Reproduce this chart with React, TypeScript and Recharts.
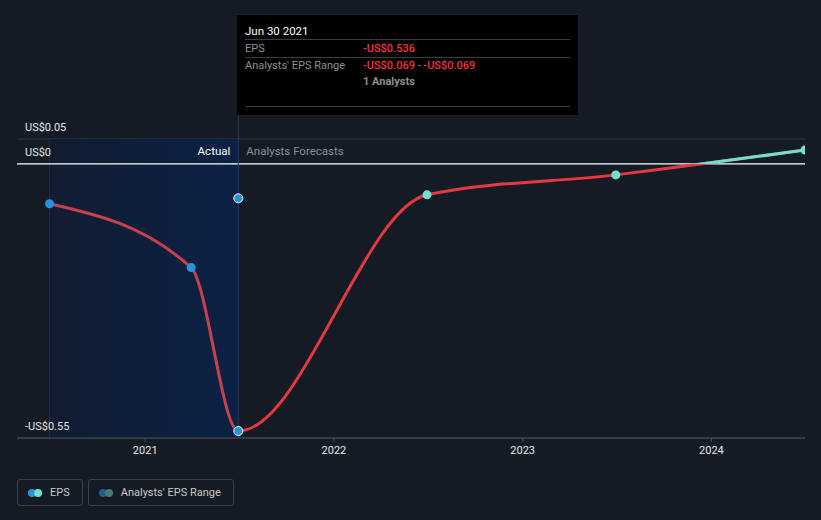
import { CartesianGrid, ComposedChart, Line, ReferenceArea, ReferenceLine, XAxis, YAxis } from 'recharts'

// values (US$ EPS)
const actualDates = ['2020-06-30', '2021-03-31', '2021-06-30']
const actualEps = [-0.08, -0.208, -0.536]
const forecastDates = ['2022-06-30', '2023-06-30', '2024-06-30']
const forecastEps = [-0.062, -0.022, 0.028]
const rangeDates = ['2021-06-30']
const rangeLow = [-0.069]
const rangeHigh = [-0.069]
const analystCounts = [1]
const yearTicks = ['2021-01-01', '2022-01-01', '2023-01-01', '2024-01-01']
const yTicks = [-0.55, -0.4, -0.2, 0, 0.05]
const yLabelValues = [0.05, 0, -0.55]
const yLabelTexts = ['US$0.05', 'US$0', '-US$0.55']

const BG = '#151b25'
const FONT = 'Roboto, "Noto Sans", sans-serif'
const ACTUAL_RED = '#c8404f'
const FORECAST_RED = '#e5393f'
const TEAL = '#6ee2cf'
const BLUE = '#2394df'

const ts = (d: string) => Date.parse(d + 'T00:00:00Z')
const actualData = actualDates.map((d, i) => ({ t: ts(d), v: actualEps[i] }))
const forecastData = forecastDates.map((d, i) => ({ t: ts(d), v: forecastEps[i] }))
const epsData = [...actualData, ...forecastData]
const rangeData = rangeDates.map((d, i) => ({ t: ts(d), v: rangeLow[i] }))

const fmt = (v: number) => (v < 0 ? '-' : '') + 'US$' + Math.abs(v).toFixed(3)
const dateText = (d: string) =>
  new Date(ts(d))
    .toLocaleDateString('en-US', { month: 'short', day: 'numeric', year: 'numeric', timeZone: 'UTC' })
    .replace(',', '')

const lastActual = actualData[actualData.length - 1]
const allV = epsData.map((p) => p.v)
const vMax = Math.max(...allV)
const vMin = Math.min(...allV)
const zeroOffset = vMax / (vMax - vMin)
const tFirst = epsData[0].t
const tLast = epsData[epsData.length - 1].t
const splitOffset = (lastActual.t - tFirst) / (tLast - tFirst)

function EpsDot(props: any) {
  const { cx, cy, index } = props
  const isActual = index < actualData.length
  const highlighted = index === actualData.length - 1
  return (
    <circle
      key={'d' + index}
      cx={cx}
      cy={cy}
      r={4.5}
      fill={isActual ? BLUE : TEAL}
      stroke={highlighted ? '#fff' : 'none'}
      strokeWidth={1}
    />
  )
}

function RangeDot(props: any) {
  const { cx, cy, index } = props
  return <circle key={'r' + index} cx={cx} cy={cy} r={4.5} fill={BLUE} stroke="#fff" strokeWidth={1} />
}

function DividerLabel(props: any) {
  const { viewBox } = props
  const x = viewBox.x
  const y = viewBox.y + 16
  return (
    <g fontFamily={FONT} fontSize={11.5}>
      <text x={x - 8} y={y} textAnchor="end" fill="#ffffff">
        Actual
      </text>
      <text x={x + 8} y={y} textAnchor="start" fill="#8a8f98">
        Analysts Forecasts
      </text>
    </g>
  )
}

function YLabel(props: any) {
  const { viewBox, text } = props
  return (
    <text x={viewBox.x + 8} y={viewBox.y - 8} fill="#e6e6e6" fontSize={11} fontFamily={FONT}>
      {text}
    </text>
  )
}

function LegendItem({ label, colors }: { label: string; colors: string[] }) {
  return (
    <div
      style={{
        height: 27,
        boxSizing: 'border-box',
        border: '1px solid #3a404b',
        borderRadius: 3,
        display: 'flex',
        alignItems: 'center',
        padding: '0 12px 0 10px',
        color: '#c8c8c8',
        fontSize: 11,
      }}
    >
      <span style={{ position: 'relative', width: 14, height: 8, marginRight: 8 }}>
        <span style={{ position: 'absolute', left: 0, top: 0, width: 8, height: 8, borderRadius: 4, background: colors[0] }} />
        <span style={{ position: 'absolute', left: 6, top: 0, width: 8, height: 8, borderRadius: 4, background: colors[1] }} />
      </span>
      {label}
    </div>
  )
}

export default function App() {
  const rowLine = '1px solid #3d3d3d'
  return (
    <div style={{ position: 'absolute', left: 0, top: 0, width: 821, height: 520, background: BG, fontFamily: FONT, overflow: 'hidden' }}>
      <ComposedChart width={821} height={470} margin={{ top: 139, right: 16, bottom: 0, left: 17 }}>
        <defs>
          <linearGradient id="actualShade" x1="0" y1="0" x2="1" y2="0">
            <stop offset="0" stopColor="#111d31" />
            <stop offset="1" stopColor="#0b2145" />
          </linearGradient>
          <linearGradient id="epsStroke" x1="0" y1="0" x2="1" y2="0">
            <stop offset="0" stopColor={ACTUAL_RED} />
            <stop offset={splitOffset} stopColor={ACTUAL_RED} />
            <stop offset={splitOffset} stopColor={FORECAST_RED} />
            <stop offset="1" stopColor={FORECAST_RED} />
          </linearGradient>
          <linearGradient id="aboveZero" x1="0" y1="0" x2="0" y2="1">
            <stop offset="0" stopColor={TEAL} />
            <stop offset={zeroOffset} stopColor={TEAL} />
            <stop offset={zeroOffset} stopColor={TEAL} stopOpacity={0} />
            <stop offset="1" stopColor={TEAL} stopOpacity={0} />
          </linearGradient>
        </defs>
        <ReferenceArea x1={actualData[0].t} x2={lastActual.t} y1={-0.55} y2={0.05} fill="url(#actualShade)" fillOpacity={1} />
        <CartesianGrid vertical={false} stroke="#333a45" strokeWidth={1} />
        <XAxis
          type="number"
          dataKey="t"
          domain={[ts('2020-04-28'), ts('2024-06-30')]}
          ticks={yearTicks.map(ts)}
          tickFormatter={(v: number) => String(new Date(v).getUTCFullYear())}
          allowDataOverflow
          height={32}
          stroke="#4a505b"
          tick={{ fill: '#e6e6e6', fontSize: 11, fontFamily: FONT }}
          tickSize={4}
          tickMargin={4}
        />
        <YAxis type="number" domain={[-0.55, 0.05]} ticks={yTicks} width={0} axisLine={false} tickLine={false} tick={false} allowDataOverflow />
        <ReferenceLine x={actualData[0].t} stroke="#1b2c45" />
        <ReferenceLine y={0} stroke="#ffffff" strokeWidth={1.2} />
        {yLabelValues.map((v, i) => (
          <ReferenceLine key={v} y={v} stroke="none" label={<YLabel text={yLabelTexts[i]} />} />
        ))}
        <ReferenceLine
          segment={[
            { x: lastActual.t, y: 0.1 },
            { x: lastActual.t, y: -0.55 },
          ]}
          ifOverflow="visible"
          stroke="#23395a"
        />
        <ReferenceLine x={lastActual.t} stroke="none" label={<DividerLabel />} />
        <Line
          data={epsData}
          dataKey="v"
          type="monotone"
          stroke="url(#epsStroke)"
          strokeWidth={3}
          dot={false}
          activeDot={false}
          isAnimationActive={false}
        />
        <Line
          data={epsData}
          dataKey="v"
          type="monotone"
          stroke="url(#aboveZero)"
          strokeWidth={3}
          dot={<EpsDot />}
          activeDot={false}
          isAnimationActive={false}
        />
        <Line data={rangeData} dataKey="v" stroke="none" dot={<RangeDot />} activeDot={false} isAnimationActive={false} />
      </ComposedChart>

      <div
        style={{
          position: 'absolute',
          left: 237,
          top: 15,
          width: 341,
          height: 100,
          background: '#000',
          boxSizing: 'border-box',
          padding: '8px 8px 0 8px',
          fontSize: 11,
        }}
      >
        <div style={{ color: '#fff', lineHeight: '16px', borderBottom: rowLine, fontSize: 11.5 }}>{dateText(rangeDates[0])}</div>
        <div style={{ display: 'flex', height: 17, lineHeight: '17px', borderBottom: rowLine, color: '#8f8f8f' }}>
          <span style={{ width: 118 }}>EPS</span>
          <span style={{ color: '#f0353d', fontWeight: 500 }}>{fmt(lastActual.v)}</span>
        </div>
        <div style={{ display: 'flex', height: 48, borderBottom: rowLine, color: '#8f8f8f', lineHeight: '16px' }}>
          <span style={{ width: 118 }}>Analysts' EPS Range</span>
          <span>
            <span style={{ color: '#f0353d', fontWeight: 500 }}>{fmt(rangeLow[0])}</span>
            {' - '}
            <span style={{ color: '#f0353d', fontWeight: 500 }}>{fmt(rangeHigh[0])}</span>
            <br />
            <span style={{ fontWeight: 700 }}>{analystCounts[0]} Analysts</span>
          </span>
        </div>
      </div>

      <div style={{ position: 'absolute', left: 17, top: 479, display: 'flex', gap: 5 }}>
        <LegendItem label="EPS" colors={[BLUE, TEAL]} />
        <LegendItem label="Analysts' EPS Range" colors={['#2b5c85', '#3d7d75']} />
      </div>
    </div>
  )
}
